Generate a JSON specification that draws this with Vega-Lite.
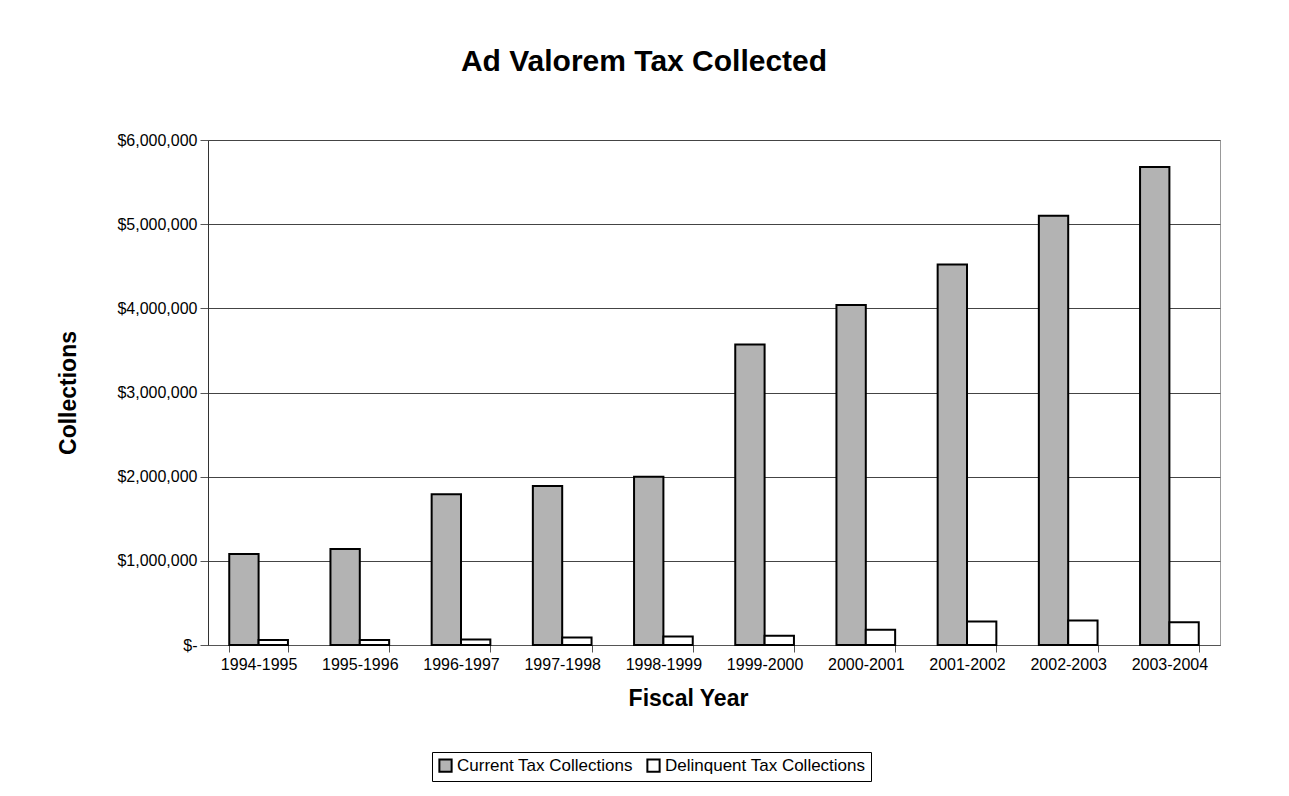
{
  "$schema": "https://vega.github.io/schema/vega-lite/v6.json",
  "autosize": {"type": "none"},
  "width": 1012,
  "height": 505,
  "padding": {"left": 208, "top": 140, "right": 69, "bottom": 151},
  "background": "white",
  "config": {
    "font": "Liberation Sans",
    "view": {"stroke": "#999999", "strokeWidth": 1}
  },
  "title": {
    "text": "Ad Valorem Tax Collected",
    "fontSize": 30,
    "fontWeight": "bold",
    "font": "Liberation Sans",
    "color": "black",
    "anchor": "middle",
    "dx": -70,
    "offset": 55
  },
  "data": {
    "values": [
      {"year": "1994-1995", "type": "Current Tax Collections", "amount": 1080000},
      {"year": "1994-1995", "type": "Delinquent Tax Collections", "amount": 60000},
      {"year": "1995-1996", "type": "Current Tax Collections", "amount": 1140000},
      {"year": "1995-1996", "type": "Delinquent Tax Collections", "amount": 60000},
      {"year": "1996-1997", "type": "Current Tax Collections", "amount": 1790000},
      {"year": "1996-1997", "type": "Delinquent Tax Collections", "amount": 65000},
      {"year": "1997-1998", "type": "Current Tax Collections", "amount": 1890000},
      {"year": "1997-1998", "type": "Delinquent Tax Collections", "amount": 90000},
      {"year": "1998-1999", "type": "Current Tax Collections", "amount": 2000000},
      {"year": "1998-1999", "type": "Delinquent Tax Collections", "amount": 100000},
      {"year": "1999-2000", "type": "Current Tax Collections", "amount": 3570000},
      {"year": "1999-2000", "type": "Delinquent Tax Collections", "amount": 110000},
      {"year": "2000-2001", "type": "Current Tax Collections", "amount": 4040000},
      {"year": "2000-2001", "type": "Delinquent Tax Collections", "amount": 180000},
      {"year": "2001-2002", "type": "Current Tax Collections", "amount": 4520000},
      {"year": "2001-2002", "type": "Delinquent Tax Collections", "amount": 280000},
      {"year": "2002-2003", "type": "Current Tax Collections", "amount": 5100000},
      {"year": "2002-2003", "type": "Delinquent Tax Collections", "amount": 290000},
      {"year": "2003-2004", "type": "Current Tax Collections", "amount": 5680000},
      {"year": "2003-2004", "type": "Delinquent Tax Collections", "amount": 270000}
    ]
  },
  "mark": {"type": "bar", "stroke": "black", "strokeWidth": 2},
  "encoding": {
    "x": {
      "field": "year",
      "type": "nominal",
      "scale": {"paddingInner": 0.42, "paddingOuter": 0.21},
      "axis": {
        "title": "Fiscal Year",
        "titleFontSize": 23,
        "titleFontWeight": "bold",
        "titleColor": "black",
        "titlePadding": 15,
        "titleX": 480,
        "labelAngle": 0,
        "labelFontSize": 16,
        "labelColor": "black",
        "labelPadding": 4,
        "domainColor": "#555555",
        "tickColor": "#555555",
        "tickBand": "extent",
        "tickSize": 7,
        "grid": false
      }
    },
    "xOffset": {
      "field": "type",
      "type": "nominal",
      "scale": {"paddingInner": 0, "paddingOuter": 0}
    },
    "y": {
      "field": "amount",
      "type": "quantitative",
      "scale": {"domain": [0, 6000000], "nice": false},
      "axis": {
        "title": "Collections",
        "titleFontSize": 23,
        "titleFontWeight": "bold",
        "titleColor": "black",
        "titlePadding": 36,
        "values": [0, 1000000, 2000000, 3000000, 4000000, 5000000, 6000000],
        "labelExpr": "datum.value == 0 ? '$-   ' : '$' + format(datum.value, ',')",
        "labelFontSize": 16,
        "labelColor": "black",
        "labelPadding": 3,
        "tickSize": 8,
        "tickColor": "#555555",
        "domainColor": "#333333",
        "gridColor": "#444444",
        "gridWidth": 1
      }
    },
    "fill": {
      "field": "type",
      "type": "nominal",
      "scale": {
        "domain": ["Current Tax Collections", "Delinquent Tax Collections"],
        "range": ["#b3b3b3", "#ffffff"]
      },
      "legend": {
        "title": null,
        "orient": "none",
        "legendX": 224,
        "legendY": 612,
        "direction": "horizontal",
        "symbolType": "square",
        "symbolSize": 150,
        "symbolStrokeColor": "black",
        "symbolStrokeWidth": 2,
        "labelFontSize": 17,
        "labelColor": "black",
        "labelLimit": 300,
        "columnPadding": 10,
        "labelOffset": 3,
        "strokeColor": "black",
        "padding": 5
      }
    }
  }
}
